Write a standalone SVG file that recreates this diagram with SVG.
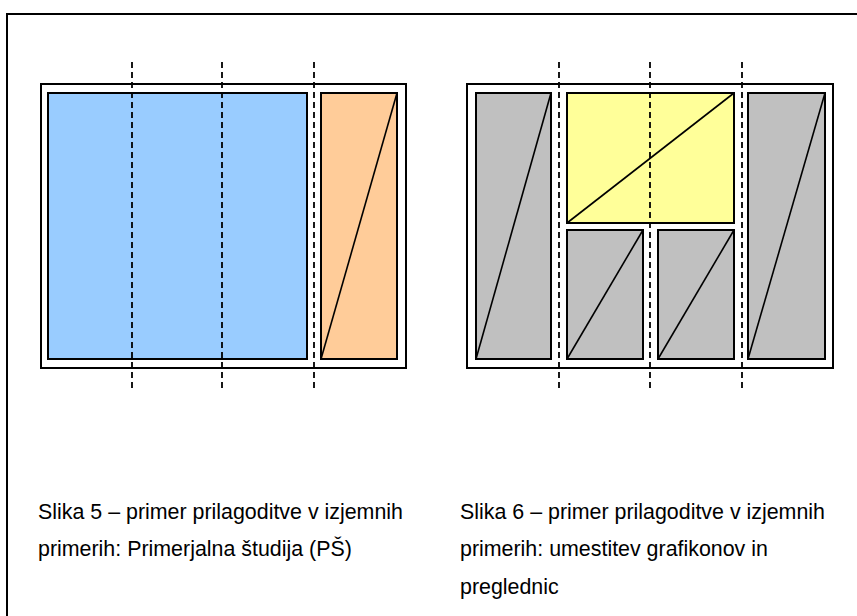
<svg xmlns="http://www.w3.org/2000/svg" width="857" height="616" viewBox="0 0 857 616">
<style>
.frame{fill:none;stroke:#000;stroke-width:2}
.box{stroke:#000;stroke-width:2}
.diag{fill:none;stroke:#000;stroke-width:1.6}
.guide{fill:none;stroke:#000;stroke-width:1.8;stroke-dasharray:6 4}
.cap{font-family:"Liberation Sans",Arial,sans-serif;font-size:21.4px;fill:#000}
</style>
<rect x="0" y="0" width="857" height="616" fill="#fff"/>
<path class="frame" d="M7,617 V14 H858"/>

<g id="fig5">
  <rect class="box" x="41" y="84" width="365" height="284" fill="#fff"/>
  <g id="fig5-main"><rect class="box" x="48" y="93" width="259" height="266" fill="#99CCFF"/></g>
  <g id="fig5-side">
    <rect class="box" x="321" y="93" width="76" height="266" fill="#FFCC99"/>
    <line class="diag" x1="321" y1="359" x2="397" y2="93"/>
  </g>
</g>

<g id="fig6">
  <rect class="box" x="467" y="84" width="366" height="284" fill="#fff"/>
  <g id="fig6-left">
    <rect class="box" x="476" y="93" width="75" height="266" fill="#C0C0C0"/>
    <line class="diag" x1="476" y1="359" x2="551" y2="93"/>
  </g>
  <g id="fig6-top">
    <rect class="box" x="567" y="93" width="167" height="130" fill="#FFFF99"/>
    <line class="diag" x1="567" y1="223" x2="734" y2="93"/>
  </g>
  <g id="fig6-bl">
    <rect class="box" x="567" y="230" width="76" height="129" fill="#C0C0C0"/>
    <line class="diag" x1="567" y1="359" x2="643" y2="230"/>
  </g>
  <g id="fig6-br">
    <rect class="box" x="658" y="230" width="76" height="129" fill="#C0C0C0"/>
    <line class="diag" x1="658" y1="359" x2="734" y2="230"/>
  </g>
  <g id="fig6-right">
    <rect class="box" x="748" y="93" width="77" height="266" fill="#C0C0C0"/>
    <line class="diag" x1="748" y1="359" x2="825" y2="93"/>
  </g>
</g>

<g id="guides">
  <line class="guide" x1="132" y1="62" x2="132" y2="390"/>
  <line class="guide" x1="222" y1="62" x2="222" y2="390"/>
  <line class="guide" x1="314" y1="62" x2="314" y2="390"/>
  <line class="guide" x1="559" y1="62" x2="559" y2="390"/>
  <line class="guide" x1="650" y1="62" x2="650" y2="390"/>
  <line class="guide" x1="742" y1="62" x2="742" y2="390"/>
</g>

<g id="caption5">
  <text class="cap" x="38" y="519">Slika 5 – primer prilagoditve v izjemnih</text>
  <text class="cap" x="38" y="556">primerih: Primerjalna študija (PŠ)</text>
</g>
<g id="caption6">
  <text class="cap" x="460" y="519">Slika 6 – primer prilagoditve v izjemnih</text>
  <text class="cap" x="460" y="556">primerih: umestitev grafikonov in</text>
  <text class="cap" x="460" y="594">preglednic</text>
</g>
</svg>
